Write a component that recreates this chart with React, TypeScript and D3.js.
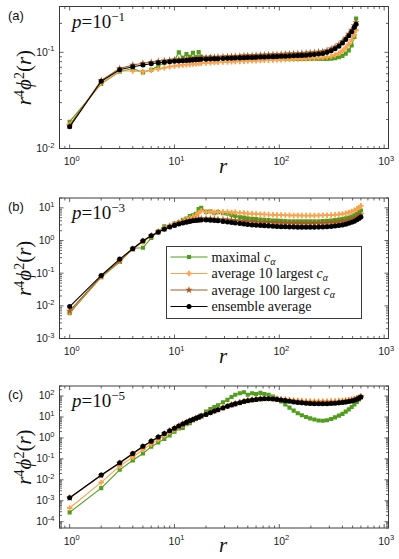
import React from 'react';
import * as d3 from 'd3';

// r values of the plotted markers (dense in the original, sampled here)
const R_A = [1, 2, 3, 4, 5, 6, 7, 8, 9, 10, 11, 12, 13, 14, 15, 16, 17, 18, 20, 22, 24, 26, 29, 32, 35, 38, 42, 46, 50, 55, 60, 66, 72, 79, 87, 95, 104, 114, 125, 137, 150, 164, 180, 197, 216, 237, 260, 285, 312, 340, 370, 400, 430, 460, 490, 520, 540];
const R_BC = [1, 2, 3, 4, 5, 6, 7, 8, 9, 10, 11, 12, 13, 14, 15, 16, 17, 18, 20, 22, 24, 26, 29, 32, 35, 38, 42, 46, 50, 55, 60, 66, 72, 79, 87, 95, 104, 114, 125, 137, 150, 164, 180, 197, 216, 237, 260, 285, 312, 340, 370, 400, 430, 460, 490, 520, 550, 575, 600];

// panel (a), p = 10^-1
const A_MAX = [0.019, 0.047, 0.063, 0.068, 0.062, 0.066, 0.072, 0.078, 0.081, 0.083,
  0.100, 0.088, 0.096, 0.090, 0.099, 0.089, 0.101, 0.090,
  0.088, 0.089, 0.087, 0.0875, 0.088, 0.0868, 0.0875, 0.087, 0.0872, 0.0868,
  0.087, 0.0872, 0.0868, 0.087, 0.0872, 0.0868, 0.087, 0.0865,
  0.0865, 0.0862, 0.086, 0.0858, 0.0856, 0.0855, 0.0853, 0.0852, 0.0852, 0.0852,
  0.0853, 0.0855, 0.086, 0.087, 0.089, 0.092, 0.097, 0.105, 0.118, 0.145, 0.225];
const A_TOP10 = [0.0178, 0.048, 0.064, 0.064, 0.063, 0.065, 0.067, 0.069, 0.071, 0.072,
  0.073, 0.074, 0.0745, 0.075, 0.0755, 0.076, 0.0765, 0.077,
  0.0775, 0.078, 0.0785, 0.079, 0.0793, 0.0796, 0.080, 0.0803, 0.0806, 0.081,
  0.0813, 0.0816, 0.082, 0.0823, 0.0826, 0.083, 0.0833, 0.0836,
  0.084, 0.0843, 0.0846, 0.085, 0.0853, 0.0856, 0.086, 0.0865, 0.087, 0.0877,
  0.0885, 0.0895, 0.091, 0.094, 0.098, 0.104, 0.112, 0.122, 0.135, 0.152, 0.170];
const A_TOP100 = [0.0172, 0.051, 0.068, 0.074, 0.077, 0.079, 0.081, 0.082, 0.083, 0.084,
  0.0845, 0.085, 0.0855, 0.086, 0.0865, 0.087, 0.0875, 0.088,
  0.0885, 0.089, 0.0893, 0.0897, 0.090, 0.0905, 0.091, 0.0914, 0.0918, 0.0922,
  0.0926, 0.093, 0.0934, 0.0938, 0.0942, 0.0946, 0.095, 0.0954,
  0.0958, 0.0962, 0.0966, 0.097, 0.0975, 0.098, 0.0986, 0.0993, 0.100, 0.101,
  0.1025, 0.105, 0.109, 0.114, 0.121, 0.130, 0.141, 0.155, 0.171, 0.190, 0.205];
const A_ENS = [0.0168, 0.050, 0.066, 0.071, 0.074, 0.076, 0.078, 0.079, 0.080, 0.081,
  0.0815, 0.082, 0.0825, 0.083, 0.0835, 0.084, 0.0843, 0.0846,
  0.085, 0.0853, 0.0856, 0.086, 0.0863, 0.0866, 0.087, 0.0873, 0.0876, 0.088,
  0.0883, 0.0886, 0.089, 0.0893, 0.0896, 0.090, 0.0903, 0.0906,
  0.091, 0.0913, 0.0916, 0.092, 0.0925, 0.093, 0.0935, 0.0942, 0.095, 0.096,
  0.0975, 0.100, 0.104, 0.109, 0.116, 0.125, 0.136, 0.149, 0.164, 0.182, 0.196];

// panel (b), p = 10^-3
const B_MAX = [0.006, 0.075, 0.22, 0.58, 0.6, 1.2, 1.9, 2.7, 2.6, 3.3,
  3.6, 4.3, 4.7, 5.6, 5.9, 6.6, 9.2, 10.0,
  7.5, 7.8, 6.9, 7.4, 6.8, 6.6, 6.0, 5.6, 5.2, 5.0,
  4.8, 4.6, 4.5, 4.4, 4.3, 4.2, 4.1, 4.05,
  4.0, 3.95, 3.9, 3.9, 3.85, 3.85, 3.85, 3.85, 3.85, 3.9,
  3.95, 4.0, 4.1, 4.2, 4.35, 4.5, 4.75, 5.0, 5.4, 5.9,
  6.6, 7.4, 8.3];
const B_TOP10 = [0.0065, 0.078, 0.23, 0.56, 0.9, 1.4, 1.9, 2.4, 2.9, 3.2,
  3.6, 4.0, 4.4, 4.8, 5.3, 5.8, 7.0, 8.2,
  7.4, 7.6, 7.3, 7.6, 7.4, 7.5, 7.2, 7.3, 7.0, 6.9,
  6.7, 6.6, 6.5, 6.4, 6.3, 6.2, 6.1, 6.05,
  6.0, 5.95, 5.9, 5.85, 5.85, 5.8, 5.8, 5.8, 5.8, 5.85,
  5.9, 5.95, 6.0, 6.1, 6.3, 6.5, 6.8, 7.2, 7.7, 8.4,
  9.3, 10.2, 11.5];
const B_TOP100 = [0.007, 0.08, 0.24, 0.55, 0.95, 1.4, 1.85, 2.3, 2.7, 3.0,
  3.35, 3.6, 3.85, 4.05, 4.25, 4.4, 4.55, 4.65,
  4.7, 4.65, 4.6, 4.5, 4.4, 4.3, 4.2, 4.1, 4.0, 3.9,
  3.8, 3.75, 3.7, 3.65, 3.6, 3.55, 3.5, 3.45,
  3.42, 3.4, 3.38, 3.36, 3.35, 3.34, 3.33, 3.33, 3.34, 3.36,
  3.4, 3.45, 3.5, 3.58, 3.68, 3.8, 3.95, 4.15, 4.4, 4.75,
  5.2, 5.7, 6.2];
const B_ENS = [0.0095, 0.085, 0.27, 0.56, 0.98, 1.4, 1.8, 2.2, 2.6, 2.9,
  3.2, 3.45, 3.65, 3.85, 4.0, 4.1, 4.2, 4.25,
  4.25, 4.2, 4.1, 4.0, 3.85, 3.7, 3.55, 3.45, 3.3, 3.2,
  3.1, 3.0, 2.95, 2.9, 2.85, 2.8, 2.75, 2.7,
  2.65, 2.62, 2.6, 2.58, 2.56, 2.55, 2.54, 2.54, 2.55, 2.57,
  2.6, 2.65, 2.7, 2.78, 2.88, 3.0, 3.15, 3.35, 3.6, 3.9,
  4.3, 4.7, 5.2];

// panel (c), p = 10^-5
const C_MAX = [0.00028, 0.004, 0.03, 0.085, 0.18, 0.38, 0.6, 0.9, 1.3, 2.0,
  2.8, 3.0, 4.5, 5.0, 6.8, 8, 10, 12,
  18, 24, 30, 36, 50, 65, 90, 115, 135, 150,
  115, 135, 125, 140, 125, 115, 95, 75,
  55, 40, 28, 20, 15, 12, 10, 8.5, 7.5, 6.8,
  6.6, 7.0, 8.0, 9.5, 11.5, 14, 18, 23, 30, 40,
  52, 68, 88];
const C_TOP10 = [0.00045, 0.0075, 0.045, 0.12, 0.28, 0.5, 0.85, 1.3, 1.9, 2.5,
  3.3, 4.2, 5.2, 6.3, 7.4, 8.5, 9.7, 11,
  13.5, 16.5, 20, 23, 28, 34, 39, 44, 51, 57,
  62, 68, 72, 76, 78, 78, 77, 75,
  72, 69, 66, 63, 61, 59, 58, 57, 56, 56,
  56, 56, 57, 58, 59, 61, 63, 66, 70, 75,
  81, 88, 97];
const C_TOP100 = [0.00135, 0.016, 0.062, 0.17, 0.38, 0.68, 1.08, 1.6, 2.2, 2.9,
  3.7, 4.6, 5.6, 6.6, 7.7, 8.8, 9.9, 11.2,
  13.3, 16.4, 19.5, 22.6, 27.8, 33, 38, 43.5, 49.5, 56,
  61, 66, 70, 74, 76, 76.5, 74.5, 71,
  67, 63, 59, 55.5, 52.5, 50.5, 48.5, 47.5, 46.5, 46.5,
  46.5, 46.5, 47.5, 48.5, 50.5, 52.5, 55, 58, 62, 67,
  74, 82, 93];
const C_ENS = [0.0014, 0.017, 0.065, 0.18, 0.4, 0.7, 1.1, 1.6, 2.2, 2.9,
  3.7, 4.6, 5.5, 6.5, 7.6, 8.6, 9.7, 11,
  13, 16, 19, 22, 27, 32, 37, 42, 48, 54,
  59, 64, 68, 72, 74, 74, 72, 68,
  64, 60, 56, 52, 49, 47, 45, 44, 43, 43,
  43, 43, 44, 45, 47, 49, 51, 54, 58, 63,
  70, 78, 90];

const SERIES_NAMES = ['maximal ', 'average 10 largest ', 'average 100 largest ', 'ensemble average'];
const SERIES_HAS_C = [true, true, true, false];
const X_TICK_EXP = [0, 1, 2, 3];
const A_Y_EXP = [-2, -1];
const B_Y_EXP = [-3, -2, -1, 0, 1];
const C_Y_EXP = [-4, -3, -2, -1, 0, 1, 2];

const COLORS = ['#4f9f1c', '#fca24d', '#a65a22', '#000000'];
const SHAPES = [d3.symbolSquare, d3.symbolCross, d3.symbolStar, d3.symbolCircle];
const SIZES = [17, 17, 17, 20];

const W = 399;
const H = 559;
const L = 59.5;
const R = 388.5;
const X_DOMAIN: [number, number] = [0.8, 1100];
const SANS = '"Liberation Sans", Arial, Helvetica, sans-serif';
const SERIF = '"Liberation Serif", "Times New Roman", serif';
const AXIS = '#3c3c3c';

const PANELS = [
  { id: '(a)', pExp: '\u22121', r: R_A, ys: [A_MAX, A_TOP10, A_TOP100, A_ENS], yDomain: [0.01, 0.3] as [number, number], yExp: A_Y_EXP, top: 6.5, bottom: 148.5, legend: false },
  { id: '(b)', pExp: '\u22123', r: R_BC, ys: [B_MAX, B_TOP10, B_TOP100, B_ENS], yDomain: [0.001, 20] as [number, number], yExp: B_Y_EXP, top: 198, bottom: 338.5, legend: true },
  { id: '(c)', pExp: '\u22125', r: R_BC, ys: [C_MAX, C_TOP10, C_TOP100, C_ENS], yDomain: [5e-5, 300] as [number, number], yExp: C_Y_EXP, top: 386, bottom: 528, legend: false },
];

function logTicks(domain: [number, number]) {
  const out: { v: number; major: boolean }[] = [];
  const k0 = Math.floor(Math.log10(domain[0]));
  const k1 = Math.ceil(Math.log10(domain[1]));
  for (let k = k0; k <= k1; k++) {
    for (let m = 1; m < 10; m++) {
      const v = m * Math.pow(10, k);
      if (v >= domain[0] * 0.999 && v <= domain[1] * 1.001) out.push({ v, major: m === 1 });
    }
  }
  return out;
}

function Panel({ cfg, idx }: { cfg: typeof PANELS[number]; idx: number }) {
  const x = d3.scaleLog().domain(X_DOMAIN).range([L, R]);
  const y = d3.scaleLog().domain(cfg.yDomain).range([cfg.bottom, cfg.top]);
  const xt = logTicks(X_DOMAIN);
  const yt = logTicks(cfg.yDomain);
  const clipId = `clip${idx}`;
  const mid = (cfg.top + cfg.bottom) / 2;

  return (
    <g>
      <defs>
        <clipPath id={clipId}>
          <rect x={L} y={cfg.top} width={R - L} height={cfg.bottom - cfg.top} />
        </clipPath>
      </defs>
      <g clipPath={`url(#${clipId})`}>
        {cfg.ys.map((vals, s) => {
          const line = d3.line<number>().x((_, i) => x(cfg.r[i])).y(d => y(d));
          const sym = d3.symbol().type(SHAPES[s]).size(SIZES[s])();
          return (
            <g key={s}>
              <path d={line(vals) || ''} fill="none" stroke={COLORS[s]} strokeWidth={1.1} />
              {vals.map((v, i) => (
                <path key={i} d={sym || ''} transform={`translate(${x(cfg.r[i])},${y(v)})`} fill={COLORS[s]} />
              ))}
            </g>
          );
        })}
      </g>
      <rect x={L} y={cfg.top} width={R - L} height={cfg.bottom - cfg.top} fill="none" stroke={AXIS} strokeWidth={1} />
      {xt.map((t, i) => {
        const px = x(t.v);
        const len = t.major ? 4 : 2.5;
        return (
          <g key={'x' + i} stroke={AXIS} strokeWidth={0.8}>
            <line x1={px} x2={px} y1={cfg.bottom} y2={cfg.bottom - len} />
            <line x1={px} x2={px} y1={cfg.top} y2={cfg.top + len} />
          </g>
        );
      })}
      {yt.map((t, i) => {
        const py = y(t.v);
        const len = t.major ? 4 : 2.5;
        return (
          <g key={'y' + i} stroke={AXIS} strokeWidth={0.8}>
            <line x1={L} x2={L + len} y1={py} y2={py} />
            <line x1={R} x2={R - len} y1={py} y2={py} />
          </g>
        );
      })}
      {X_TICK_EXP.map(e => (
        <text key={'xl' + e} x={x(Math.pow(10, e)) + 2} y={cfg.bottom + 16.5} textAnchor="middle" fontFamily={SANS} fontSize={10.5} fill="#222">
          10<tspan dy={-4.5} fontSize={7.5}>{e}</tspan>
        </text>
      ))}
      {cfg.yExp.map(e => (
        <text key={'yl' + e} x={L - 5} y={y(Math.pow(10, e)) + 3.5} textAnchor="end" fontFamily={SANS} fontSize={10.5} fill="#222">
          10<tspan dy={-4.5} fontSize={7.5}>{e < 0 ? '-' + Math.abs(e) : e}</tspan>
        </text>
      ))}
      <text x={(L + R) / 2 - 1} y={cfg.bottom + 24} textAnchor="middle" fontFamily={SERIF} fontStyle="italic" fontSize={21} fill="#111">r</text>
      <text transform={`translate(31,${mid}) rotate(-90)`} textAnchor="middle" fontFamily={SERIF} fontSize={21} fill="#111">
        <tspan fontStyle="italic">r</tspan>
        <tspan dy={-7} fontSize={14}>4</tspan>
        <tspan dy={7} fontStyle="italic">{'\u03D5'}</tspan>
        <tspan dy={-7} fontSize={14}>2</tspan>
        <tspan dy={7}>(</tspan>
        <tspan fontStyle="italic">r</tspan>
        <tspan>)</tspan>
      </text>
      <text x={8} y={cfg.top + 13} fontFamily={SANS} fontSize={13} fill="#111">{cfg.id}</text>
      <text x={72} y={cfg.top + 21} fontFamily={SERIF} fontSize={19} fill="#111">
        <tspan fontStyle="italic">p</tspan>
        <tspan>=10</tspan>
        <tspan dy={-7} fontSize={13}>{cfg.pExp}</tspan>
      </text>
      {cfg.legend && <Legend />}
    </g>
  );
}

function Legend() {
  const lx = 166.5;
  const ly = 246.5;
  const lw = 195;
  const lh = 72;
  return (
    <g>
      <rect x={lx} y={ly} width={lw} height={lh} fill="#fff" stroke={AXIS} strokeWidth={1} />
      {SERIES_NAMES.map((name, s) => {
        const cy = ly + 10.5 + s * 16.5;
        const sym = d3.symbol().type(SHAPES[s]).size(SIZES[s])();
        return (
          <g key={s}>
            <line x1={lx + 4} x2={lx + 41} y1={cy} y2={cy} stroke={COLORS[s]} strokeWidth={1.2} />
            <path d={sym || ''} transform={`translate(${lx + 22.5},${cy})`} fill={COLORS[s]} />
            <text x={lx + 45} y={cy + 4.5} fontFamily={SERIF} fontSize={14} fill="#111">
              {name}
              {SERIES_HAS_C[s] && <tspan fontStyle="italic">c</tspan>}
              {SERIES_HAS_C[s] && <tspan dy={3} fontSize={10} fontStyle="italic">{'\u03B1'}</tspan>}
            </text>
          </g>
        );
      })}
    </g>
  );
}

export default function App() {
  return (
    <svg width={W} height={H} viewBox={`0 0 ${W} ${H}`} style={{ position: 'absolute', left: 0, top: 0, background: '#fff' }}>
      {PANELS.map((p, i) => <Panel key={i} cfg={p} idx={i} />)}
    </svg>
  );
}
